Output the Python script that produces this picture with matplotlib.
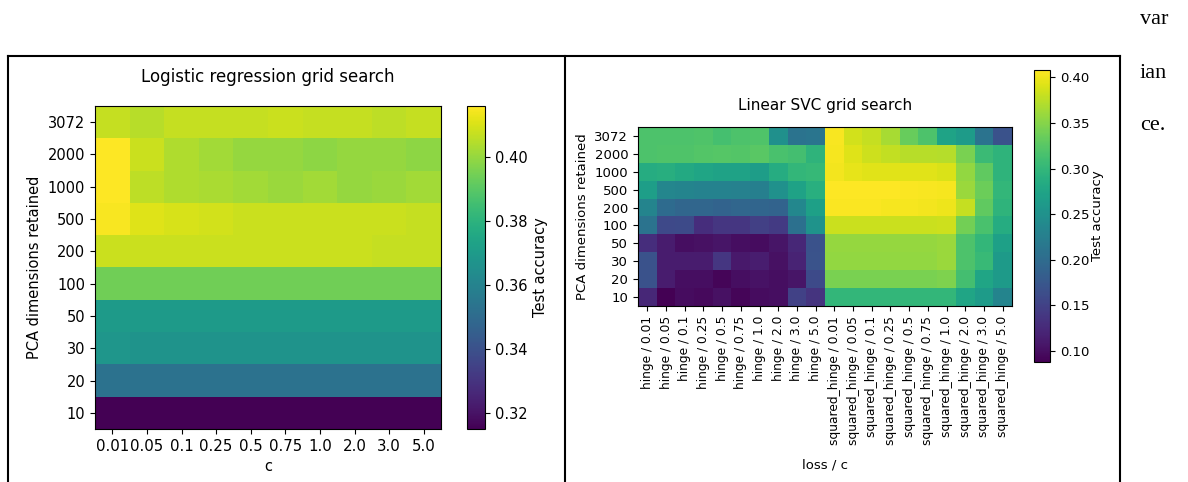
import numpy as np
import matplotlib
matplotlib.use("Agg")
import matplotlib.pyplot as plt
from matplotlib.lines import Line2D

W, H = 1188, 482

pca_dims = ["3072", "2000", "1000", "500", "200", "100", "50", "30", "20", "10"]
c_values = ["0.01", "0.05", "0.1", "0.25", "0.5", "0.75", "1.0", "2.0", "3.0", "5.0"]
losses = ["hinge", "squared_hinge"]
svc_labels = [l + " / " + c for l in losses for c in c_values]

# logistic regression test accuracy, rows = pca dims (3072 first), cols = c
logreg_acc = [
    [0.407, 0.405, 0.407, 0.407, 0.407, 0.408, 0.407, 0.407, 0.406, 0.407],
    [0.416, 0.408, 0.404, 0.402, 0.400, 0.400, 0.399, 0.400, 0.400, 0.399],
    [0.416, 0.406, 0.404, 0.403, 0.402, 0.401, 0.402, 0.400, 0.401, 0.402],
    [0.415, 0.411, 0.410, 0.409, 0.408, 0.408, 0.408, 0.408, 0.408, 0.407],
    [0.408, 0.408, 0.408, 0.408, 0.408, 0.408, 0.408, 0.408, 0.407, 0.407],
    [0.394, 0.394, 0.394, 0.394, 0.394, 0.394, 0.394, 0.394, 0.394, 0.394],
    [0.370, 0.370, 0.370, 0.370, 0.370, 0.370, 0.370, 0.370, 0.370, 0.370],
    [0.368, 0.367, 0.367, 0.367, 0.367, 0.367, 0.367, 0.367, 0.367, 0.367],
    [0.353, 0.353, 0.353, 0.353, 0.353, 0.353, 0.353, 0.353, 0.353, 0.353],
    [0.315, 0.315, 0.315, 0.315, 0.315, 0.315, 0.315, 0.315, 0.315, 0.315],
]

# linear SVC test accuracy, rows = pca dims, cols = hinge c..., squared_hinge c...
svc_acc = [
    [0.318, 0.318, 0.318, 0.320, 0.314, 0.318, 0.320, 0.248, 0.210, 0.212,
     0.405, 0.386, 0.380, 0.366, 0.334, 0.318, 0.274, 0.264, 0.210, 0.168],
    [0.318, 0.320, 0.320, 0.322, 0.324, 0.322, 0.326, 0.316, 0.312, 0.296,
     0.404, 0.392, 0.384, 0.378, 0.374, 0.374, 0.372, 0.344, 0.306, 0.296],
    [0.286, 0.288, 0.282, 0.276, 0.272, 0.272, 0.266, 0.286, 0.300, 0.302,
     0.402, 0.396, 0.394, 0.394, 0.394, 0.394, 0.390, 0.356, 0.330, 0.296],
    [0.267, 0.235, 0.232, 0.230, 0.230, 0.228, 0.226, 0.250, 0.272, 0.290,
     0.408, 0.408, 0.408, 0.407, 0.406, 0.405, 0.404, 0.360, 0.336, 0.300],
    [0.232, 0.200, 0.194, 0.194, 0.190, 0.194, 0.192, 0.190, 0.236, 0.270,
     0.406, 0.406, 0.406, 0.404, 0.404, 0.402, 0.400, 0.380, 0.330, 0.296],
    [0.210, 0.158, 0.160, 0.130, 0.138, 0.138, 0.148, 0.142, 0.206, 0.252,
     0.382, 0.382, 0.382, 0.382, 0.382, 0.382, 0.384, 0.340, 0.316, 0.286],
    [0.130, 0.112, 0.100, 0.102, 0.106, 0.100, 0.098, 0.106, 0.124, 0.168,
     0.357, 0.357, 0.357, 0.357, 0.357, 0.357, 0.360, 0.318, 0.300, 0.270],
    [0.168, 0.112, 0.112, 0.112, 0.139, 0.110, 0.114, 0.102, 0.120, 0.170,
     0.356, 0.356, 0.356, 0.356, 0.356, 0.356, 0.360, 0.318, 0.304, 0.262],
    [0.168, 0.112, 0.100, 0.100, 0.092, 0.100, 0.104, 0.100, 0.106, 0.160,
     0.344, 0.344, 0.344, 0.344, 0.344, 0.344, 0.346, 0.312, 0.276, 0.262],
    [0.124, 0.088, 0.098, 0.096, 0.102, 0.092, 0.098, 0.100, 0.150, 0.136,
     0.300, 0.300, 0.300, 0.300, 0.300, 0.300, 0.300, 0.276, 0.264, 0.232],
]


def box(x0, y0, x1, y1):
    # pixel box (top-left origin) -> figure fraction rect
    return [x0 / W, 1 - y1 / H, (x1 - x0) / W, (y1 - y0) / H]


fig = plt.figure(figsize=(W / 100, H / 100), dpi=100)

# ---- logistic regression panel
ax1 = fig.add_axes(box(95, 106, 441, 429))
im1 = ax1.imshow(np.array(logreg_acc), cmap="viridis", aspect="auto")
ax1.set_xticks(range(len(c_values)))
ax1.set_xticklabels(c_values, fontsize=10.8)
ax1.set_yticks(range(len(pca_dims)))
ax1.set_yticklabels(pca_dims, fontsize=10.5)
ax1.set_xlabel("c", fontsize=10.5)
ax1.set_ylabel("PCA dimensions retained", fontsize=10.5)
ax1.set_title("Logistic regression grid search", fontsize=12, pad=17)
cax1 = fig.add_axes(box(467, 106, 485, 429))
cb1 = fig.colorbar(im1, cax=cax1, ticks=[0.32, 0.34, 0.36, 0.38, 0.40])
cb1.ax.tick_params(labelsize=10.5)
cb1.set_label("Test accuracy", fontsize=10.5)

# ---- linear SVC panel
ax2 = fig.add_axes(box(638, 127, 1012, 306))
im2 = ax2.imshow(np.array(svc_acc), cmap="viridis", aspect="auto")
ax2.set_xticks(range(len(svc_labels)))
ax2.set_xticklabels(svc_labels, rotation=90, fontsize=8.8)
ax2.set_yticks(range(len(pca_dims)))
ax2.set_yticklabels(pca_dims, fontsize=9.5)
ax2.set_xlabel("loss / c", fontsize=9.5, labelpad=10)
ax2.set_ylabel("PCA dimensions retained", fontsize=9.5)
ax2.set_title("Linear SVC grid search", fontsize=11, pad=12)
cax2 = fig.add_axes(box(1034, 70, 1050, 362))
cb2 = fig.colorbar(im2, cax=cax2, ticks=[0.10, 0.15, 0.20, 0.25, 0.30, 0.35, 0.40])
cb2.ax.tick_params(labelsize=9.5)
cb2.set_label("Test accuracy", fontsize=9.5, labelpad=1)

# ---- frame of the document table around the two images
for xs, ys in [([8, 1120], [56, 56]), ([8, 8], [56, 482]),
               ([565, 565], [56, 482]), ([1120, 1120], [56, 482])]:
    fig.add_artist(Line2D([x / W for x in xs], [1 - y / H for y in ys],
                          transform=fig.transFigure, color="black", lw=1.5))

for word, y in [("var", 20), ("ian", 74), ("ce.", 126)]:
    fig.text(1140 / W, 1 - y / H, word, fontsize=16, family="Liberation Serif",
             va="center", ha="left")

fig.savefig("out.png", dpi=100)
